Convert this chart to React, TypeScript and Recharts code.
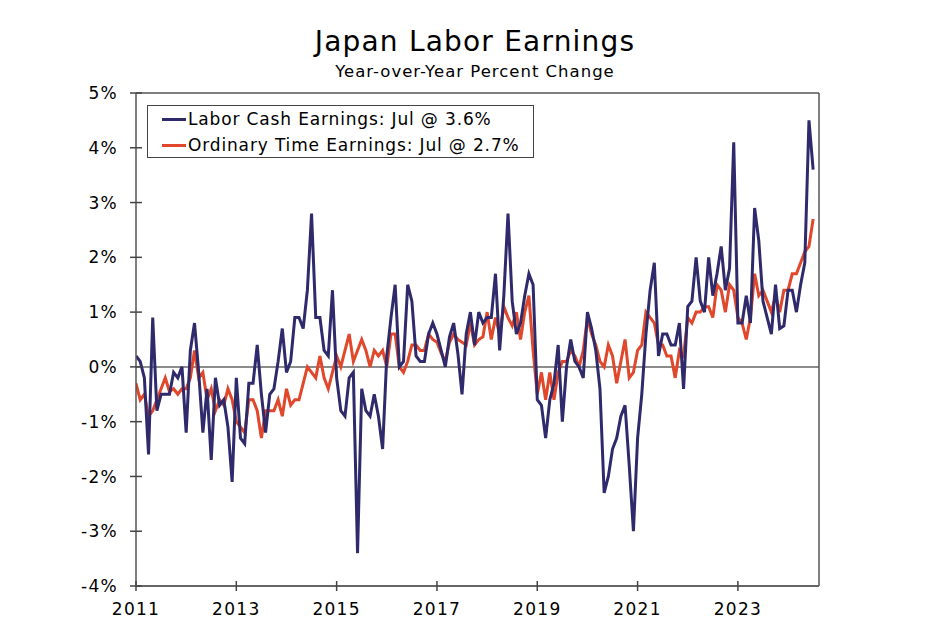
import React from 'react';
import {
  LineChart,
  Line,
  XAxis,
  YAxis,
  ReferenceLine,
} from 'recharts';

// monthly, Jan 2011 .. Jul 2024, year-over-year % change
const startYear = 2011;

const laborCash = [
  0.2, 0.1, -0.2, -1.6, 0.9, -0.8, -0.5, -0.5, -0.5, -0.1, -0.2, 0.0,
  -1.2, 0.3, 0.8, -0.1, -1.2, -0.4, -1.7, -0.2, -0.7, -0.6, -1.1, -2.1,
  -0.2, -1.3, -1.4, -0.3, -0.3, 0.4, -0.5, -1.2, -0.5, -0.4, 0.1, 0.7,
  -0.1, 0.1, 0.9, 0.9, 0.7, 1.4, 2.8, 0.9, 0.9, 0.3, 0.2, 1.4,
  -0.2, -0.8, -0.9, -0.2, -0.1, -3.4, -0.4, -0.8, -0.9, -0.5, -0.9, -1.5,
  0.2, 0.9, 1.5, 0.0, 0.1, 1.5, 1.2, 0.2, 0.1, 0.1, 0.6, 0.8,
  0.6, 0.3, 0.0, 0.55, 0.8, 0.25, -0.5, 0.6, 1.0, 0.4, 1.0, 0.8,
  0.9, 0.9, 1.7, 0.3, 1.3, 2.8, 1.2, 0.6, 0.8, 1.3, 1.7, 1.5,
  -0.6, -0.7, -1.3, -0.6, -0.3, 0.4, -1.0, 0.0, 0.5, 0.1, 0.0, -0.2,
  1.0, 0.7, 0.3, -0.4, -2.3, -2.0, -1.5, -1.3, -0.9, -0.7, -1.8, -3.0,
  -1.3, -0.5, 0.6, 1.4, 1.9, 0.2, 0.6, 0.6, 0.4, 0.4, 0.8, -0.4,
  1.1, 1.2, 2.0, 1.2, 1.0, 2.0, 1.3, 1.7, 2.2, 1.4, 1.8, 4.1,
  0.8, 0.8, 1.3, 0.8, 2.9, 2.3, 1.2, 0.9, 0.6, 1.5, 0.7, 0.75,
  1.4, 1.4, 1.0, 1.5, 1.9, 4.5, 3.6,
];

const ordinaryTime = [
  -0.3, -0.6, -0.5, -0.9, -0.8, -0.6, -0.4, -0.2, -0.45, -0.4, -0.5, -0.4,
  -0.4, -0.2, 0.3, -0.2, -0.1, -0.6, -0.4, -0.8, -0.6, -0.7, -0.4, -0.6,
  -1.0, -1.1, -1.2, -0.6, -0.6, -0.8, -1.3, -0.8, -0.8, -0.8, -0.6, -0.9,
  -0.4, -0.7, -0.6, -0.6, -0.3, 0.0, -0.1, -0.2, 0.2, -0.2, -0.4, -0.1,
  0.2, 0.0, 0.3, 0.6, 0.1, 0.3, 0.5, 0.3, 0.0, 0.3, 0.2, 0.3,
  0.0, 0.6, 0.6, 0.0, -0.1, 0.1, 0.4, 0.4, 0.3, 0.3, 0.6, 0.5,
  0.45, 0.25, 0.1, 0.45, 0.6, 0.5, 0.45, 0.4, 0.8, 0.4, 0.5, 0.55,
  1.0, 0.5, 0.9, 0.6, 1.1, 0.9, 0.75, 1.0, 0.5, 1.0, 1.3, 0.3,
  -0.5, -0.1, -0.6, -0.1, -0.6, -0.1, 0.1, 0.1, 0.3, 0.2, 0.0, 0.3,
  0.9, 0.6, 0.4, 0.1, 0.0, 0.4, 0.2, -0.3, 0.1, 0.5, -0.2, -0.1,
  0.3, 0.4, 1.0, 0.9, 0.8, 0.4, 0.4, 0.2, 0.2, -0.2, 0.3, 0.2,
  0.9, 0.8, 1.0, 1.0, 1.1, 1.1, 0.9, 1.5, 1.4, 1.0, 1.5, 1.4,
  0.9, 0.8, 0.5, 0.9, 1.7, 1.3, 1.4, 1.2, 1.0, 1.3, 1.0, 1.4,
  1.4, 1.7, 1.7, 1.9, 2.1, 2.2, 2.7,
];

const yearTicks = [0, 24, 48, 72, 96, 120, 144];
const pctTicks = [-4, -3, -2, -1, 0, 1, 2, 3, 4, 5];

const BLUE = '#2e2a6b';
const RED = '#e0472b';
const FONT = '"DejaVu Sans", Verdana, sans-serif';

const chartData = laborCash.map((v, i) => ({
  i,
  labor: v,
  ordinary: ordinaryTime[i],
}));

const tickText = { fontSize: 17, fill: '#000', fontFamily: FONT, letterSpacing: 1.3 };

const LeftTick = ({ x, y, payload }: any) => (
  <g>
    <line x1={x - 6} x2={x + 6} y1={y} y2={y} stroke="#444" strokeWidth={1.5} />
    <text x={x - 18} y={y} dy="0.36em" textAnchor="end" {...tickText}>
      {payload.value}%
    </text>
  </g>
);

const RightTick = ({ x, y, payload }: any) => (
  <g>
    <line x1={x - 6} x2={x + 6} y1={y} y2={y} stroke="#444" strokeWidth={1.5} />
    <text x={x + 45} y={y} dy="0.36em" textAnchor="end" {...tickText}>
      {payload.value}%
    </text>
  </g>
);

const BottomTick = ({ x, y, payload }: any) => (
  <g>
    <line x1={x} x2={x} y1={y - 5} y2={y + 5} stroke="#444" strokeWidth={1.5} />
    <text x={x} y={y + 23} dy="0.36em" textAnchor="middle" {...tickText}>
      {startYear + payload.value / 12}
    </text>
  </g>
);

function LegendBox() {
  const row = (color: string, label: string) => (
    <div style={{ display: 'flex', alignItems: 'center', height: 26 }}>
      <div style={{ width: 24, height: 3, background: color, marginLeft: 14, marginRight: 2 }} />
      <span style={{ fontSize: 17, color: '#000', letterSpacing: 0.85 }}>{label}</span>
    </div>
  );
  return (
    <div
      style={{
        position: 'absolute',
        left: 147,
        top: 105,
        width: 387,
        height: 53,
        boxSizing: 'border-box',
        border: '1px solid #444',
        background: '#fff',
        fontFamily: FONT,
      }}
    >
      {row(BLUE, 'Labor Cash Earnings: Jul @ 3.6%')}
      {row(RED, 'Ordinary Time Earnings: Jul @ 2.7%')}
    </div>
  );
}

export default function App() {
  return (
    <div style={{ position: 'absolute', left: 0, top: 0, width: 950, height: 630, background: '#fff', fontFamily: FONT }}>
      <div style={{ position: 'absolute', left: 0, width: 950, top: 25, textAlign: 'center', fontSize: 28, letterSpacing: 1.2, color: '#000' }}>
        Japan Labor Earnings
      </div>
      <div style={{ position: 'absolute', left: 0, width: 950, top: 62, textAlign: 'center', fontSize: 16.5, letterSpacing: 1, color: '#000' }}>
        Year-over-Year Percent Change
      </div>
      <LineChart
        width={950}
        height={630}
        data={chartData}
        margin={{ top: 93, right: 81, bottom: 14, left: 86 }}
      >
        <XAxis
          dataKey="i"
          type="number"
          domain={[0, 163.4]}
          ticks={yearTicks}
          allowDataOverflow
          height={30}
          tickSize={0}
          tickMargin={0}
          tickLine={false}
          axisLine={{ stroke: '#333', strokeWidth: 1.5 }}
          tick={<BottomTick />}
          interval={0}
        />
        <YAxis
          yAxisId="left"
          orientation="left"
          domain={[-4, 5]}
          ticks={pctTicks}
          width={50}
          tickSize={0}
          tickMargin={0}
          tickLine={false}
          axisLine={{ stroke: '#555', strokeWidth: 1.5 }}
          tick={<LeftTick />}
          interval={0}
        />
        <YAxis
          yAxisId="right"
          orientation="right"
          domain={[-4, 5]}
          ticks={pctTicks}
          width={50}
          tickSize={0}
          tickMargin={0}
          tickLine={false}
          axisLine={{ stroke: '#555', strokeWidth: 1.5 }}
          tick={<RightTick />}
          interval={0}
        />
        <ReferenceLine yAxisId="left" y={5} stroke="#555" strokeWidth={1.5} />
        <ReferenceLine yAxisId="left" y={0} stroke="#666" strokeWidth={1.5} />
        <Line
          yAxisId="left"
          type="linear"
          dataKey="ordinary"
          stroke={RED}
          strokeWidth={3}
          dot={false}
          isAnimationActive={false}
        />
        <Line
          yAxisId="left"
          type="linear"
          dataKey="labor"
          stroke={BLUE}
          strokeWidth={3}
          dot={false}
          isAnimationActive={false}
        />
      </LineChart>
      <LegendBox />
    </div>
  );
}
